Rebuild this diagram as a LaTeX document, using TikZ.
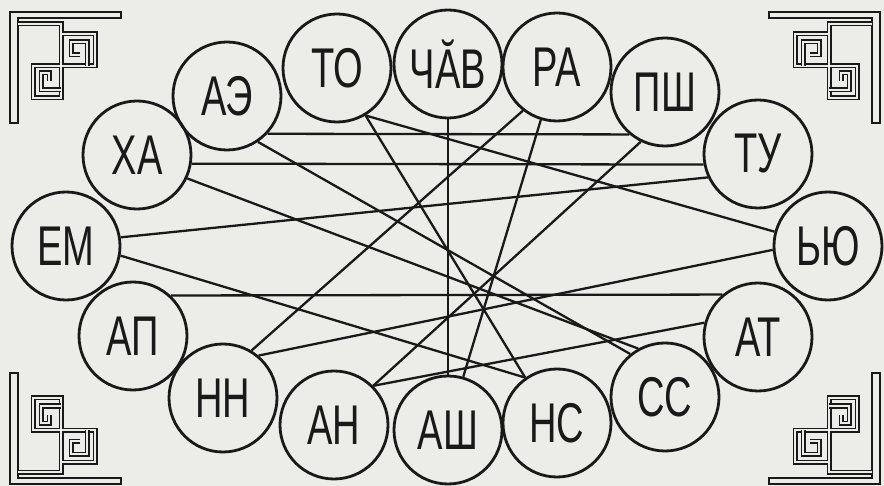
\documentclass[tikz,border=0pt]{standalone}
\usepackage{fontspec}
\newfontfamily\signfont{Liberation Sans}[FakeStretch=0.68]
\definecolor{paper}{RGB}{236,236,233}
\definecolor{ink}{RGB}{25,25,25}
\tikzset{
  sign/.style={circle, draw=ink, line width=2.8pt, minimum size=108pt, inner sep=0pt,
    text=ink, font=\signfont\fontsize{56}{60}\selectfont},
  link/.style={draw=ink, line width=2.3pt},
  knot/.style={draw=ink, double=paper, double distance=2.4pt, line width=1.3pt}
}
\newcommand\cornerknot{%
  \draw[draw=ink, line width=1.5pt] (10,12) -- (121,12) -- (121,18) -- (18,18) -- (18,123) -- (10,123) -- cycle;
  \draw[knot] (18,24) -- (61,24) -- (61,98) -- (33,98) -- (33,66) -- (95,66) -- (95,34) -- (61,34);
  \draw[knot] (80,55) -- (71,55) -- (71,42) -- (87,42) -- (87,66);
  \draw[knot] (49,81) -- (49,73) -- (41,73) -- (41,90) -- (61,90);
}

\begin{document}
\begin{tikzpicture}[x=1pt, y=-1pt]
	\useasboundingbox (0,0) rectangle (884,486);
	\fill[paper] (0,0) rectangle (884,486);

	% corner ornaments
	\begin{scope}\cornerknot\end{scope}
	\begin{scope}[shift={(890,0)}, xscale=-1]\cornerknot\end{scope}
	\begin{scope}[shift={(0,496)}, yscale=-1]\cornerknot\end{scope}
	\begin{scope}[shift={(890,496)}, xscale=-1, yscale=-1]\cornerknot\end{scope}

	% signs round the ring
	\node[sign] (to) at (337, 68) {ТО};
	\node[sign] (chav) at (448, 64) {ЧӐВ};
	\node[sign] (ra) at (557, 67) {РА};
	\node[sign] (psh) at (665, 92) {ПШ};
	\node[sign] (tu) at (758, 154) {ТУ};
	\node[sign] (yu) at (828, 246) {ЬЮ};
	\node[sign] (at) at (758, 337) {АТ};
	\node[sign] (ss) at (665, 397) {СС};
	\node[sign] (ns) at (557, 423) {НС};
	\node[sign] (ash) at (448, 430) {АШ};
	\node[sign] (an) at (334, 425) {АН};
	\node[sign] (nn) at (223, 398) {НН};
	\node[sign] (ap) at (133, 336) {АП};
	\node[sign] (em) at (66, 246) {ЕМ};
	\node[sign] (ha) at (137, 155) {ХА};
	\node[sign] (ae) at (227, 96) {АЭ};

	% links
	\draw[link] (ae.-43.3) -- (psh.-130.6);
	\draw[link] (ha.-9.6) -- (tu.-169.3);
	\draw[link] (ap.47.8) -- (at.130.6);
	\draw[link] (chav.south) -- (ash.north);
	\draw[link] (to.-59) -- (yu.165);
	\draw[link] (to.-59) -- (ns.125);
	\draw[link] (ae.-56) -- (ss.129);
	\draw[link] (ha.-25.6) -- (ss.119);
	\draw[link] (em.9.5) -- (tu.-155);
	\draw[link] (em.-10.3) -- (ns.125);
	\draw[link] (ra.-128) -- (nn.59.4);
	\draw[link] (ra.-107) -- (ash.74);
	\draw[link] (psh.-116.6) -- (an.45.7);
	\draw[link] (nn.50.9) -- (yu.184);
	\draw[link] (an.45.7) -- (at.165);

\end{tikzpicture}
\end{document}
